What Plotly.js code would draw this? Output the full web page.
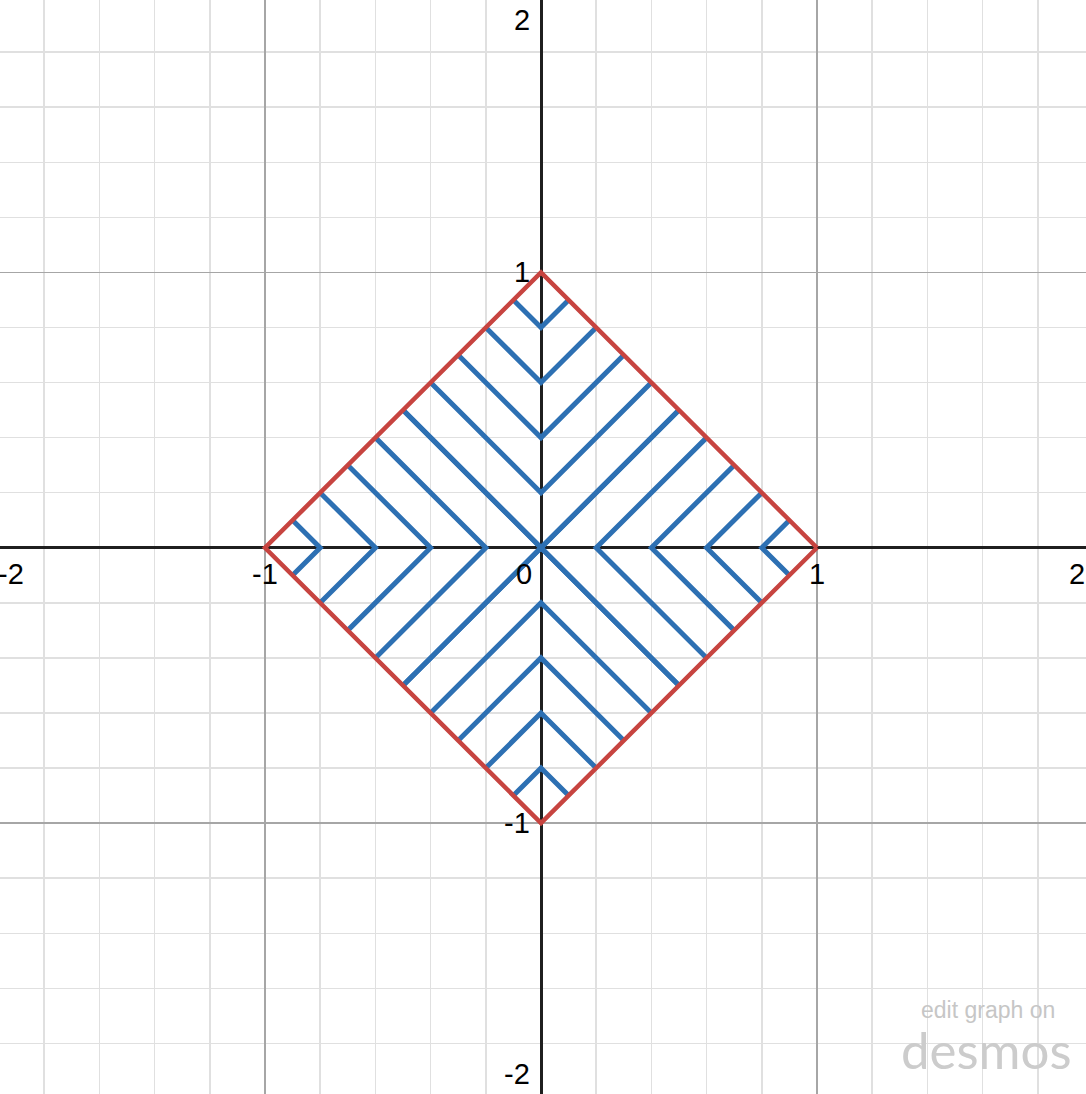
<!DOCTYPE html>
<html>
<head>
<meta charset="utf-8">
<script src="https://cdn.plot.ly/plotly-3.0.1.min.js"></script>
<style>html,body{margin:0;padding:0;background:#fff;}#chart{width:1086px;height:1094px;}</style>
</head>
<body>
<div id="chart"></div>
<script>
// Red boundary |x|+|y| = 1 (diamond vertices)
const diamondX = [1, 0, -1, 0, 1];
const diamondY = [0, 1, 0, -1, 0];
// Blue nested V shapes: apex distance from origin, and arm half-width where arms meet the diamond
const vApex = [0, 0.2, 0.4, 0.6, 0.8];
const vArm  = [0.5, 0.4, 0.3, 0.2, 0.1];
// Directions in which the V's open (top, right, bottom, left)
const dirX = [0, 1, 0, -1];
const dirY = [1, 0, -1, 0];
// Axis labels
const xTickVals = [-2, -1, 0, 1, 2];
const yTickVals = [-2, -1, 1, 2];

const blueX = [], blueY = [];
for (let d = 0; d < dirX.length; d++) {
  const ux = dirX[d], uy = dirY[d];
  const px = -uy, py = ux; // perpendicular
  for (let i = 0; i < vApex.length; i++) {
    const a = vApex[i], h = vArm[i];
    blueX.push(ux * (a + h) + px * h, ux * a, ux * (a + h) - px * h, null);
    blueY.push(uy * (a + h) + py * h, uy * a, uy * (a + h) - py * h, null);
  }
}

const traces = [
  {x: blueX, y: blueY, mode: 'lines', type: 'scatter', hoverinfo: 'skip',
   line: {color: '#2d70b3', width: 5}},
  {x: diamondX, y: diamondY, mode: 'lines', type: 'scatter', hoverinfo: 'skip',
   line: {color: '#c74440', width: 4.5}}
];

const font = {family: 'Liberation Sans, Arial, sans-serif', size: 29, color: '#000'};
const annotations = [];
xTickVals.forEach(v => {
  const a = {text: String(v), showarrow: false, font: font, yref: 'y', y: 0, yanchor: 'middle', yshift: -26, borderpad: 0};
  if (v === 0) { a.xref = 'x'; a.x = 0; a.xanchor = 'right'; a.xshift = -8; }
  else if (v === -2) { a.xref = 'paper'; a.x = 0; a.xanchor = 'left'; a.xshift = -3; }
  else if (v === 2) { a.xref = 'paper'; a.x = 1; a.xanchor = 'right'; a.xshift = 0; }
  else { a.xref = 'x'; a.x = v; a.xanchor = 'center'; }
  annotations.push(a);
});
yTickVals.forEach(v => {
  const a = {text: String(v), showarrow: false, font: font, xref: 'x', x: 0, xanchor: 'right', xshift: -10, borderpad: 0};
  if (v === 2) { a.yref = 'paper'; a.y = 1; a.yanchor = 'top'; a.yshift = -3; }
  else if (v === -2) { a.yref = 'paper'; a.y = 0; a.yanchor = 'bottom'; a.yshift = 3; }
  else { a.yref = 'y'; a.y = v; a.yanchor = 'middle'; }
  annotations.push(a);
});
annotations.push({text: 'edit graph on', showarrow: false, xref: 'paper', yref: 'paper',
  x: 0.9098, y: 0.0765, xanchor: 'center', yanchor: 'middle', borderpad: 0,
  font: {family: 'Liberation Sans, Arial, sans-serif', size: 23, color: '#c6c6c6'}});
annotations.push({text: 'desmos', showarrow: false, xref: 'paper', yref: 'paper',
  x: 0.908, y: 0.041, xanchor: 'center', yanchor: 'middle', borderpad: 0,
  font: {family: 'Lato, Liberation Sans, sans-serif', size: 51, color: '#cccccc'}});

const axisCommon = {
  showticklabels: false, ticks: '', showline: false,
  showgrid: true, gridcolor: '#a6a6a6', gridwidth: 1.5, dtick: 1, tick0: 0,
  minor: {dtick: 0.2, tick0: 0, showgrid: true, gridcolor: '#e0e0e0', gridwidth: 1.5},
  zeroline: true, zerolinecolor: '#1f1f1f', zerolinewidth: 3,
  fixedrange: true
};

const layout = {
  width: 1086, height: 1094,
  margin: {l: 0, r: 0, t: 0, b: 0},
  paper_bgcolor: '#fff', plot_bgcolor: '#fff',
  showlegend: false,
  xaxis: Object.assign({}, axisCommon, {range: [-1.9601, 1.9746]}),
  yaxis: Object.assign({}, axisCommon, {range: [-1.9837, 1.9892]}),
  annotations: annotations
};

Plotly.newPlot('chart', traces, layout, {staticPlot: true, displayModeBar: false});
</script>
</body>
</html>
